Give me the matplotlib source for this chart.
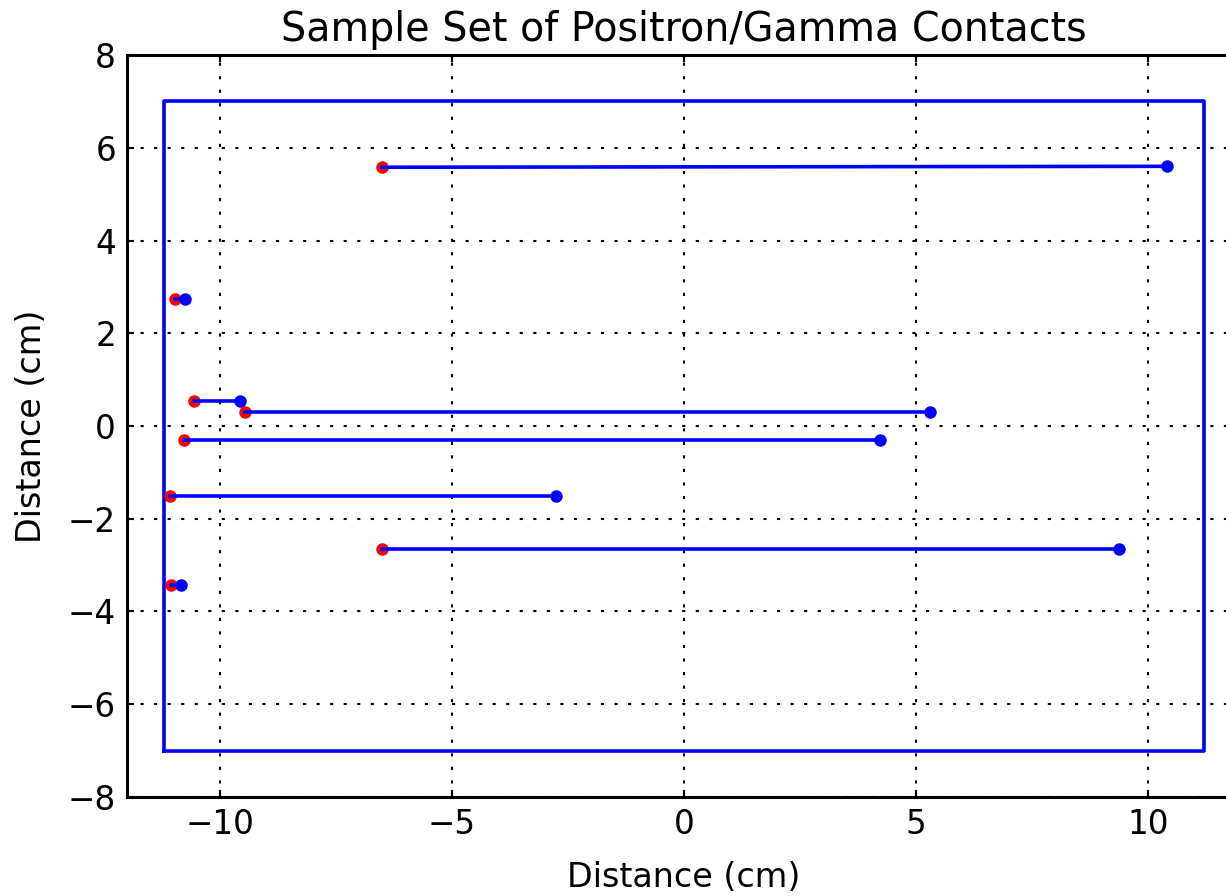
#!/usr/bin/env python3
"""Sample set of positron/gamma contacts inside the detector box."""
import matplotlib
matplotlib.use("Agg")
import matplotlib.pyplot as plt

# detector outline (cm)
BOX_X = [-11.2, 11.2, 11.2, -11.2, -11.2]
BOX_Y = [-7.0, -7.0, 7.0, 7.0, -7.0]

# positron contact points (red) and gamma contact points (blue)
POS_X = [-6.51, -10.97, -10.56, -9.46, -10.78, -11.08, -6.51, -11.06]
POS_Y = [5.58, 2.74, 0.54, 0.30, -0.30, -1.51, -2.65, -3.43]
GAM_X = [10.41, -10.75, -9.57, 5.30, 4.22, -2.76, 9.38, -10.84]
GAM_Y = [5.60, 2.74, 0.54, 0.30, -0.30, -1.51, -2.65, -3.43]

XTICKS = [-10, -5, 0, 5, 10]
YTICKS = [-8, -6, -4, -2, 0, 2, 4, 6, 8]


def main() -> None:
    fig = plt.figure(figsize=(12.26, 8.96), dpi=100)
    ax = fig.add_axes([0.1036, 0.1105, 0.9086, 0.8281])

    ax.plot(BOX_X, BOX_Y, color="blue", lw=2.6, zorder=2)
    ax.plot(POS_X, POS_Y, "o", color="red", ms=9, mew=0, zorder=3)
    for xe, ye, xg, yg in zip(POS_X, POS_Y, GAM_X, GAM_Y):
        ax.plot([xe, xg], [ye, yg], color="blue", lw=2.6, zorder=4)
    ax.plot(GAM_X, GAM_Y, "o", color="blue", ms=9, mew=0, zorder=5)

    ax.set_xlim(-12, 12)
    ax.set_ylim(-8, 8)
    ax.set_xticks(XTICKS)
    ax.set_yticks(YTICKS)
    ax.grid(True, color="black", lw=1.5, linestyle=(0, (1.5, 5)))
    ax.tick_params(direction="in", length=5, width=1.5, labelsize=23.5,
                   top=True, right=True, pad=8)
    for sp in ax.spines.values():
        sp.set_linewidth(2.2)

    ax.set_xlabel("Distance (cm)", fontsize=24, labelpad=14)
    ax.set_ylabel("Distance (cm)", fontsize=24, labelpad=14)
    ax.set_title("Sample Set of Positron/Gamma Contacts", fontsize=28.5, pad=10)

    fig.savefig("out.png", dpi=100, facecolor="white")


if __name__ == "__main__":
    main()
